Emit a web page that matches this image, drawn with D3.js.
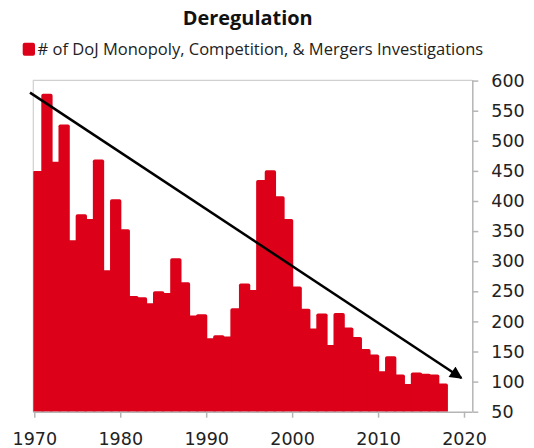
<!DOCTYPE html>
<html><head><meta charset="utf-8">
<script src="https://cdn.jsdelivr.net/npm/d3@7"></script>
<style>
html,body{margin:0;padding:0;background:#fff;}
svg{display:block;}
</style></head>
<body>
<svg id="chart" width="534" height="448"></svg>
<script>
const title = "Deregulation";
const legendLabel = "# of DoJ Monopoly, Competition, & Mergers Investigations";
const years = d3.range(1970, 2018);
const investigations = [450, 578, 465, 527, 335, 378, 370, 469, 285, 403,
  353, 242, 240, 230, 250, 247, 305, 265, 210, 212,
  172, 177, 175, 222, 263, 252, 435, 451, 408, 370,
  258, 221, 188, 213, 161, 214, 190, 174, 154, 145,
  117, 142, 112, 96, 115, 113, 112, 97];
const trendStart = [1969.5, 580];
const trendEnd = [2019.7, 106];
const yTicks = [50, 100, 150, 200, 250, 300, 350, 400, 450, 500, 550, 600];
const xTicks = [1970, 1980, 1990, 2000, 2010, 2020];

const svg = d3.select("#chart");
const red = "#dc0019";
const axisGray = "#b5b5b5";
const x = d3.scaleLinear().domain([1970, 2020]).range([34.3, 464]);
const y = d3.scaleLinear().domain([50, 600]).range([411.7, 80.6]);
const plotL = 33.3, plotR = 472.3, plotT = 80.3, plotB = 411.7;

function fit(sel, target) {
  const w = sel.node().getComputedTextLength();
  const fs = parseFloat(sel.attr("font-size"));
  sel.attr("font-size", (fs * target / w).toFixed(2));
}

// title
const t = svg.append("text").attr("x", 247.7).attr("y", 25)
  .attr("text-anchor", "middle").attr("font-family", "Open Sans, sans-serif")
  .attr("font-weight", "bold").attr("font-size", 18).attr("fill", "#111").text(title);
fit(t, 130);

// legend
svg.append("rect").attr("x", 22.7).attr("y", 42.7).attr("width", 12.3).attr("height", 13)
  .attr("rx", 2).attr("fill", red);
const lg = svg.append("text").attr("x", 37.5).attr("y", 55)
  .attr("font-family", "Open Sans, sans-serif").attr("font-size", 16)
  .attr("fill", "#222").text(legendLabel);
fit(lg, 446);

// frame
svg.append("path").attr("d", `M${plotL},${plotB}V${plotT}H${plotR}`)
  .attr("fill", "none").attr("stroke", "#d0d0d0").attr("stroke-width", 1.2);

// clip
svg.append("clipPath").attr("id", "clip").append("rect")
  .attr("x", plotL).attr("y", plotT).attr("width", plotR - plotL).attr("height", plotB - plotT);

// bars
const bw = 11.3;
svg.append("g").attr("clip-path", "url(#clip)").selectAll("rect")
  .data(years.map((yr, i) => ({yr, v: investigations[i]})))
  .join("rect")
  .attr("x", d => x(d.yr) - 1.6)
  .attr("width", bw)
  .attr("y", d => y(d.v))
  .attr("height", d => plotB + 4 - y(d.v))
  .attr("rx", 1.8)
  .attr("fill", red);

// bottom axis
const xAxis = svg.append("g").attr("transform", `translate(0,${plotB})`)
  .call(d3.axisBottom(x).tickValues(xTicks).tickFormat(d3.format("d")).tickSize(6).tickPadding(8));
xAxis.select(".domain").attr("d", `M${plotL},0.5H${plotR}`).attr("stroke", axisGray).attr("stroke-width", 1.5);
xAxis.selectAll(".tick line").attr("stroke", axisGray).attr("stroke-width", 1.5);
xAxis.selectAll(".tick text").attr("font-family", "DejaVu Sans, sans-serif")
  .attr("font-size", 17.5).attr("fill", "#222").attr("dy", "0.71em").attr("y", 20.5);

// right axis
const yAxis = svg.append("g").attr("transform", `translate(${plotR},0)`)
  .call(d3.axisRight(y).tickValues(yTicks).tickSize(6).tickPadding(13));
yAxis.select(".domain").attr("d", `M0.5,${plotT}V${plotB}`).attr("stroke", axisGray).attr("stroke-width", 1.5);
yAxis.selectAll(".tick line").attr("stroke", axisGray).attr("stroke-width", 1.5);
yAxis.selectAll(".tick text").attr("font-family", "DejaVu Sans, sans-serif")
  .attr("font-size", 17.5).attr("fill", "#222");

// trend arrow
const defs = svg.append("defs");
defs.append("marker").attr("id", "arrow").attr("viewBox", "0 0 10 10")
  .attr("refX", 9).attr("refY", 5).attr("markerWidth", 5.5).attr("markerHeight", 5)
  .attr("orient", "auto").attr("markerUnits", "strokeWidth")
  .append("path").attr("d", "M0,0L10,5L0,10Z").attr("fill", "#000");
svg.append("line")
  .attr("x1", x(trendStart[0])).attr("y1", y(trendStart[1]))
  .attr("x2", x(trendEnd[0])).attr("y2", y(trendEnd[1]))
  .attr("stroke", "#000").attr("stroke-width", 2.5)
  .attr("marker-end", "url(#arrow)");
</script>
</body></html>
